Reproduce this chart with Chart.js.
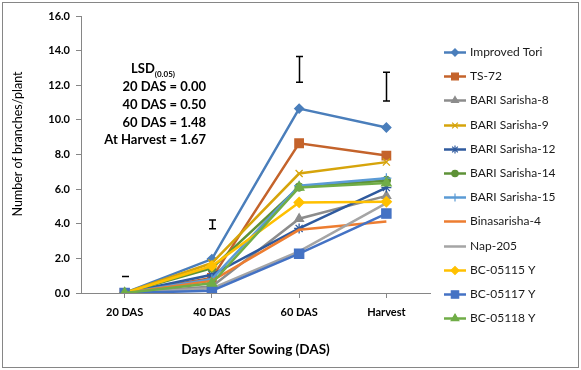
<!DOCTYPE html>
<html>
<head>
<meta charset="utf-8">
<script src="https://cdn.jsdelivr.net/npm/chart.js@4.4.1/dist/chart.umd.min.js"></script>
<style>
  html, body { margin: 0; padding: 0; background: #fff; }
</style>
</head>
<body>
<canvas id="branchChart" width="581" height="370"></canvas>
<script>
// growth stages (x categories)
const stages = ['20 DAS', '40 DAS', '60 DAS', 'Harvest'];

// number of branches per plant
const improvedTori   = [0, 1.96, 10.65, 9.56];
const ts72           = [0, 0.87, 8.65, 7.94];
const bariSarisha8   = [0, 0.38, 4.29, 5.61];
const bariSarisha9   = [0, 1.73, 6.90, 7.56];
const bariSarisha12  = [0, 1.05, 3.73, 6.09];
const bariSarisha14  = [0, 1.44, 6.12, 6.50];
const bariSarisha15  = [0, 0.80, 6.20, 6.63];
const binasarisha4   = [0, 0.70, 3.65, 4.13];
const nap205         = [0, 0.27, 2.40, 5.19];
const bc05115y       = [0, 1.56, 5.23, 5.27];
const bc05117y       = [0, 0.13, 2.27, 4.59];
const bc05118y       = [0, 0.56, 6.10, 6.35];

// LSD(0.05) per stage and where its bar sits on the chart
const lsdStages  = ['20 DAS', '40 DAS', '60 DAS', 'At Harvest'];
const lsdValues  = [0.00, 0.50, 1.48, 1.67];
const lsdCenters = [0.96, 3.96, 12.92, 11.92];

const series = [
    { label: 'Improved Tori',   data: improvedTori,  color: '#4a7ebb', style: 'rectRot',  r: 4.5 },
    { label: 'TS-72',           data: ts72,          color: '#c4632b', style: 'rect',     r: 6 },
    { label: 'BARI Sarisha-8',  data: bariSarisha8,  color: '#8c8c8c', style: 'triangle', r: 5 },
    { label: 'BARI Sarisha-9',  data: bariSarisha9,  color: '#d6a40b', style: 'crossRot', r: 5 },
    { label: 'BARI Sarisha-12', data: bariSarisha12, color: '#2f5a9e', style: 'star',     r: 5 },
    { label: 'BARI Sarisha-14', data: bariSarisha14, color: '#5e9237', style: 'circle',   r: 4 },
    { label: 'BARI Sarisha-15', data: bariSarisha15, color: '#5b9bd5', style: 'cross',    r: 5 },
    { label: 'Binasarisha-4',   data: binasarisha4,  color: '#ed7d31', style: false,      r: 0 },
    { label: 'Nap-205',         data: nap205,        color: '#a5a5a5', style: false,      r: 0 },
    { label: 'BC-05115 Y',      data: bc05115y,      color: '#ffc000', style: 'rectRot',  r: 5 },
    { label: 'BC-05117 Y',      data: bc05117y,      color: '#4472c4', style: 'rect',     r: 6.5 },
    { label: 'BC-05118 Y',      data: bc05118y,      color: '#70ad47', style: 'triangle', r: 5.5 }
];

const FONT = 'Lato, "Open Sans", sans-serif';
const AXIS_GREY = '#868686';

const extrasPlugin = {
    id: 'extras',
    beforeDraw(chart) {
        const ctx = chart.ctx;
        ctx.save();
        ctx.fillStyle = '#fff';
        ctx.fillRect(0, 0, chart.width, chart.height);
        ctx.restore();
    },
    afterDatasetsDraw(chart) {
        // LSD bars
        const { ctx, scales: { x, y } } = chart;
        ctx.save();
        ctx.strokeStyle = '#000';
        ctx.lineWidth = 1.5;
        lsdCenters.forEach((c, i) => {
            const px = Math.round(x.getPixelForValue(i)) + 0.5;
            const top = y.getPixelForValue(c + lsdValues[i] / 2);
            const bot = y.getPixelForValue(c - lsdValues[i] / 2);
            ctx.beginPath();
            ctx.moveTo(px, top); ctx.lineTo(px, bot);
            ctx.moveTo(px - 3.5, top); ctx.lineTo(px + 3.5, top);
            ctx.moveTo(px - 3.5, bot); ctx.lineTo(px + 3.5, bot);
            ctx.stroke();
        });
        ctx.restore();
    },
    afterDraw(chart) {
        const ctx = chart.ctx;
        ctx.save();

        // LSD text block
        ctx.fillStyle = '#000';
        ctx.textBaseline = 'alphabetic';
        ctx.textAlign = 'left';
        ctx.font = 'bold 13px ' + FONT;
        ctx.fillText('LSD', 131, 73);
        const w = ctx.measureText('LSD').width;
        ctx.font = 'bold 8px ' + FONT;
        ctx.fillText('(0.05)', 131 + w, 77);
        ctx.font = 'bold 13px ' + FONT;
        ctx.textAlign = 'right';
        lsdStages.forEach((s, i) => {
            ctx.fillText(s + ' = ' + lsdValues[i].toFixed(2), 206, 91 + i * 17.8);
        });

        // y axis title
        ctx.save();
        ctx.translate(18, 144);
        ctx.rotate(-Math.PI / 2);
        ctx.textAlign = 'center';
        ctx.textBaseline = 'middle';
        ctx.font = '12.5px ' + FONT;
        ctx.fillText('Number of branches/plant', 0, 0);
        ctx.restore();

        // legend: line + marker + label
        ctx.textAlign = 'left';
        ctx.textBaseline = 'middle';
        series.forEach((s, i) => {
            const ly = Math.round(52 + i * 24.2) + 0.5;
            ctx.strokeStyle = s.color;
            ctx.fillStyle = s.color;
            ctx.lineWidth = 2.5;
            ctx.beginPath();
            ctx.moveTo(444, ly); ctx.lineTo(466, ly);
            ctx.stroke();
            if (s.style && Chart.helpers && Chart.helpers.drawPoint) {
                ctx.lineWidth = 1.2;
                Chart.helpers.drawPoint(ctx, {
                    pointStyle: s.style, radius: s.r * 0.8, rotation: 0, borderWidth: 1.2
                }, 455, ly);
            }
            ctx.fillStyle = '#1a1a1a';
            ctx.font = '12px ' + FONT;
            ctx.fillText(s.label, 470, ly);
        });

        // chart border
        ctx.strokeStyle = AXIS_GREY;
        ctx.lineWidth = 1;
        ctx.strokeRect(2.5, 2.5, 576, 365);
        ctx.restore();
    }
};

const ctx = document.getElementById('branchChart').getContext('2d');
const n = series.length;
const branchChart = new Chart(ctx, {
    type: 'line',
    data: {
        labels: stages,
        datasets: series.map((s, i) => ({
            label: s.label,
            data: s.data,
            borderColor: s.color,
            backgroundColor: s.color,
            borderWidth: 2.5,
            pointStyle: s.style,
            pointRadius: s.r,
            pointBackgroundColor: s.color,
            pointBorderColor: s.color,
            pointBorderWidth: 1.3,
            tension: 0,
            fill: false,
            order: n - i
        }))
    },
    options: {
        responsive: false,
        animation: false,
        devicePixelRatio: 1,
        layout: { padding: { top: 16, right: 151, left: 0, bottom: 0 } },
        plugins: {
            legend: { display: false },
            tooltip: { enabled: false },
            title: { display: false }
        },
        scales: {
            x: {
                offset: true,
                grid: {
                    offset: false,
                    drawOnChartArea: false,
                    tickLength: 5,
                    color: AXIS_GREY
                },
                border: { color: AXIS_GREY, width: 1 },
                ticks: {
                    color: '#000',
                    padding: 8,
                    font: { family: FONT, size: 11, weight: 'bold' },
                    maxRotation: 0
                },
                title: {
                    display: true,
                    text: 'Days After Sowing (DAS)',
                    color: '#000',
                    font: { family: FONT, size: 13.5, weight: 'bold' },
                    padding: { top: 0, bottom: 12 }
                },
                afterFit(scale) { scale.height = 77; }
            },
            y: {
                min: 0,
                max: 16,
                grid: {
                    drawOnChartArea: false,
                    tickLength: 5,
                    color: AXIS_GREY
                },
                border: { color: AXIS_GREY, width: 1 },
                ticks: {
                    stepSize: 2,
                    color: '#000',
                    padding: 6,
                    font: { family: FONT, size: 11, weight: 'bold' },
                    callback: v => v.toFixed(1)
                },
                afterFit(scale) { scale.width = 81; }
            }
        }
    },
    plugins: [extrasPlugin]
});
</script>
</body>
</html>
